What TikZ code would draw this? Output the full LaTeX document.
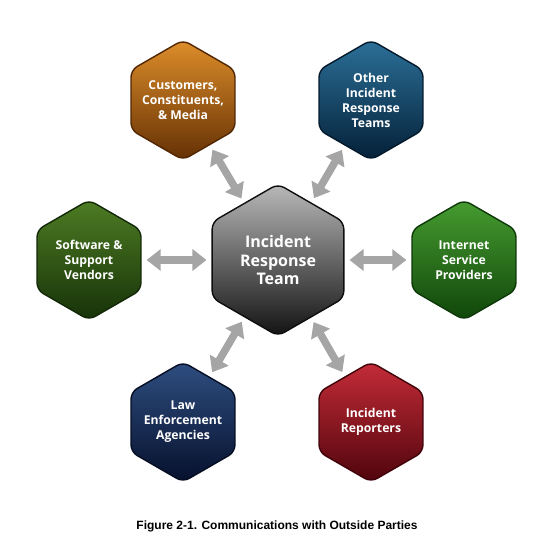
\documentclass[tikz,border=0pt]{standalone}
\usepackage{fontspec}
\setmainfont{Liberation Sans}
\newfontfamily\hexfont{Open Sans}
\usetikzlibrary{shapes.geometric,arrows.meta}
\definecolor{orT}{RGB}{222,142,42}
\definecolor{orM}{RGB}{196,108,18}
\definecolor{orB}{RGB}{100,48,4}
\definecolor{blT}{RGB}{44,112,152}
\definecolor{blM}{RGB}{22,78,115}
\definecolor{blB}{RGB}{4,32,56}
\definecolor{sgT}{RGB}{78,124,36}
\definecolor{sgM}{RGB}{52,98,20}
\definecolor{sgB}{RGB}{22,50,8}
\definecolor{igT}{RGB}{70,156,48}
\definecolor{igM}{RGB}{44,126,28}
\definecolor{igB}{RGB}{16,70,10}
\definecolor{nvT}{RGB}{46,78,128}
\definecolor{nvM}{RGB}{24,50,96}
\definecolor{nvB}{RGB}{6,16,44}
\definecolor{rdT}{RGB}{196,44,56}
\definecolor{rdM}{RGB}{160,22,34}
\definecolor{rdB}{RGB}{80,4,12}
\definecolor{gyT}{RGB}{185,185,185}
\definecolor{gyM}{RGB}{100,100,100}
\definecolor{gyB}{RGB}{18,18,18}
\definecolor{arrgray}{RGB}{165,165,165}
\begin{document}
\begin{tikzpicture}[x=1pt,y=-1pt,
  hex/.style={regular polygon, regular polygon sides=6, shape border rotate=30,
    minimum size=120pt, inner sep=0pt, rounded corners=7pt, line width=1.4pt},
  hexcol/.style n args={3}{top color=#1, middle color=#2, bottom color=#3, draw=#3!80!black},
  hextext/.style={text=white, align=center, inner sep=0pt,
    font=\hexfont\bfseries\fontsize{12.2}{15}\selectfont},
  bigtext/.style={text=white, align=center, inner sep=0pt,
    font=\hexfont\bfseries\fontsize{16}{18.5}\selectfont},
  arr/.style={draw=arrgray, line width=7.5pt,
    {Triangle[width=21pt,length=14pt]}-{Triangle[width=21pt,length=14pt]},
    shorten <=5pt, shorten >=5pt}]
\useasboundingbox (0,0) rectangle (550,542);
\node[hex, hexcol={gyT}{gyM}{gyB}, minimum size=152pt, label={[bigtext]center:Incident\\Response\\Team}] (irt) at (278,260) {};
\node[hex, hexcol={orT}{orM}{orB}, label={[hextext]center:Customers,\\Constituents,\\\& Media}] (cust) at (183,100) {};
\node[hex, hexcol={blT}{blM}{blB}, label={[hextext]center:Other\\Incident\\Response\\Teams}] (other) at (371,100) {};
\node[hex, hexcol={sgT}{sgM}{sgB}, label={[hextext]center:Software \&\\Support\\Vendors}] (soft) at (89,260) {};
\node[hex, hexcol={igT}{igM}{igB}, label={[hextext]center:Internet\\Service\\Providers}] (isp) at (464,260) {};
\node[hex, hexcol={nvT}{nvM}{nvB}, label={[hextext]center:Law\\Enforcement\\Agencies}] (law) at (183,422) {};
\node[hex, hexcol={rdT}{rdM}{rdB}, label={[hextext]center:Incident\\Reporters}] (rep) at (371,422) {};
\draw[arr] (irt) -- (cust);
\draw[arr] (irt) -- (other);
\draw[arr] (irt) -- (soft);
\draw[arr] (irt) -- (isp);
\draw[arr] (irt) -- (law);
\draw[arr] (irt) -- (rep);
\node[font=\bfseries\fontsize{12}{14}\selectfont] (cap) at (277,526) {Figure 2-1. Communications with Outside Parties};
\end{tikzpicture}
\end{document}
